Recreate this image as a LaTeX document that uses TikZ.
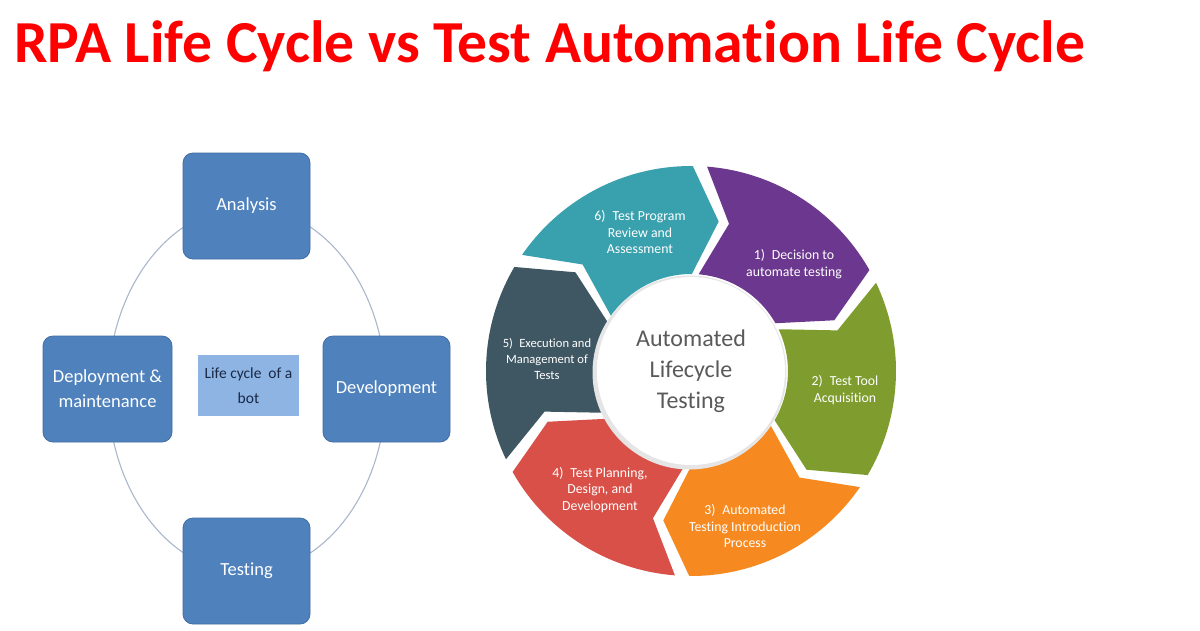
\documentclass[tikz,border=0pt]{standalone}
\usepackage{fontspec}
\setmainfont{Carlito}[Ligatures=NoCommon]
\usetikzlibrary{calc}
\definecolor{cteal}{RGB}{57,160,173}
\definecolor{cpurple}{RGB}{108,55,143}
\definecolor{cgreen}{RGB}{127,157,47}
\definecolor{corange}{RGB}{246,137,31}
\definecolor{cred}{RGB}{216,80,72}
\definecolor{cslate}{RGB}{63,87,98}
\definecolor{boxblue}{RGB}{79,129,189}
\definecolor{boxedge}{RGB}{65,110,165}
\definecolor{lightblue}{RGB}{141,180,226}
\definecolor{bottext}{RGB}{25,40,70}
\definecolor{ringgray}{RGB}{170,184,204}
\definecolor{hubtext}{RGB}{90,90,90}
\definecolor{titlered}{RGB}{255,0,0}
\pgfdeclareradialshading{hubshade}{\pgfpoint{0bp}{0bp}}{color(0bp)=(white); color(36bp)=(white); color(50bp)=(black!22)}
\tikzset{
  stagebox/.style={draw=boxedge, line width=0.8pt, fill=boxblue, rounded corners=10pt,
    minimum width=127pt, minimum height=106pt, inner sep=2pt, text=white, align=center,
    font=\fontsize{18.5}{25}\selectfont},
  centrebox/.style={fill=lightblue, minimum width=101pt, minimum height=61pt, inner sep=2pt,
    text=bottext, align=center, font=\fontsize{15.5}{25}\selectfont},
  ringline/.style={draw=ringgray, line width=1.1pt},
  segtext/.style={text=white, align=center, inner sep=0pt, font=\fontsize{13.8}{16.8}\selectfont},
  hubtxt/.style={text=hubtext, align=center, inner sep=0pt, font=\fontsize{24}{31}\selectfont},
}
\begin{document}
\begin{tikzpicture}[x=1pt, y=1pt]
\useasboundingbox (0,0) rectangle (1200,-630);
\fill[white] (0,0) rectangle (1200,-630);

% title
\node[anchor=base west, inner sep=0pt, text=titlered] (title) at (14,-62)
  {\resizebox{1071pt}{!}{\fontsize{57}{60}\selectfont\bfseries RPA Life Cycle vs Test Automation Life Cycle}};

% ---------- left: life cycle of a bot ----------
\draw[ringline] (247,-390) ellipse [x radius=139pt, y radius=183pt];
\node[stagebox] (ana) at (246.5,-206) {Analysis};
\node[stagebox] (dev) at (386.5,-389) {Development};
\node[stagebox, minimum width=129pt] (dep) at (107.5,-389) {Deployment \&\\maintenance};
\node[stagebox] (tst) at (246.5,-571) {Testing};
\node[centrebox] (bot) at (248.5,-385.5) {Life cycle\ \ of a\\bot};

% ---------- right: automated lifecycle testing ----------
\begin{scope}[shift={(691,-371)}]
  \foreach \k/\col in {1/cpurple,2/cgreen,3/corange,4/cred,5/cslate,6/cteal}{
    \pgfmathsetmacro\ts{87.5-60*(\k-1)-2}
    \pgfmathsetmacro\te{87.5-60*\k+2}
    \pgfmathsetmacro\tt{\te-10}
    \pgfmathsetmacro\tn{\ts-10}
    \fill[\col] (\ts:205pt) arc[start angle=\ts, end angle=\te, radius=205pt]
      -- (\tt:152pt) -- (\te:97pt)
      arc[start angle=\te, end angle=\ts, radius=97pt]
      -- (\tn:152pt) -- cycle;
  }
  \fill[black!10] (-1.5,-1.5) circle (97pt);
  \shade[shading=hubshade] (0,0) circle (94pt);
\end{scope}

\node[hubtxt] (hub) at (691,-371) {Automated\\Lifecycle\\Testing};
\node[segtext] (s1) at (794,-264) {1)\enspace Decision to\\automate testing};
\node[segtext] (s2) at (845,-390) {2)\enspace Test Tool\\Acquisition};
\node[segtext] (s3) at (745,-526) {3)\enspace Automated\\Testing Introduction\\Process};
\node[segtext] (s4) at (600,-490) {4)\enspace Test Planning,\\Design, and\\Development};
\node[segtext, font=\fontsize{12.6}{15.6}\selectfont] (s5) at (547,-359) {5)\enspace Execution and\\Management of\\Tests};
\node[segtext] (s6) at (640,-232) {6)\enspace Test Program\\Review and\\Assessment};
\end{tikzpicture}
\end{document}
